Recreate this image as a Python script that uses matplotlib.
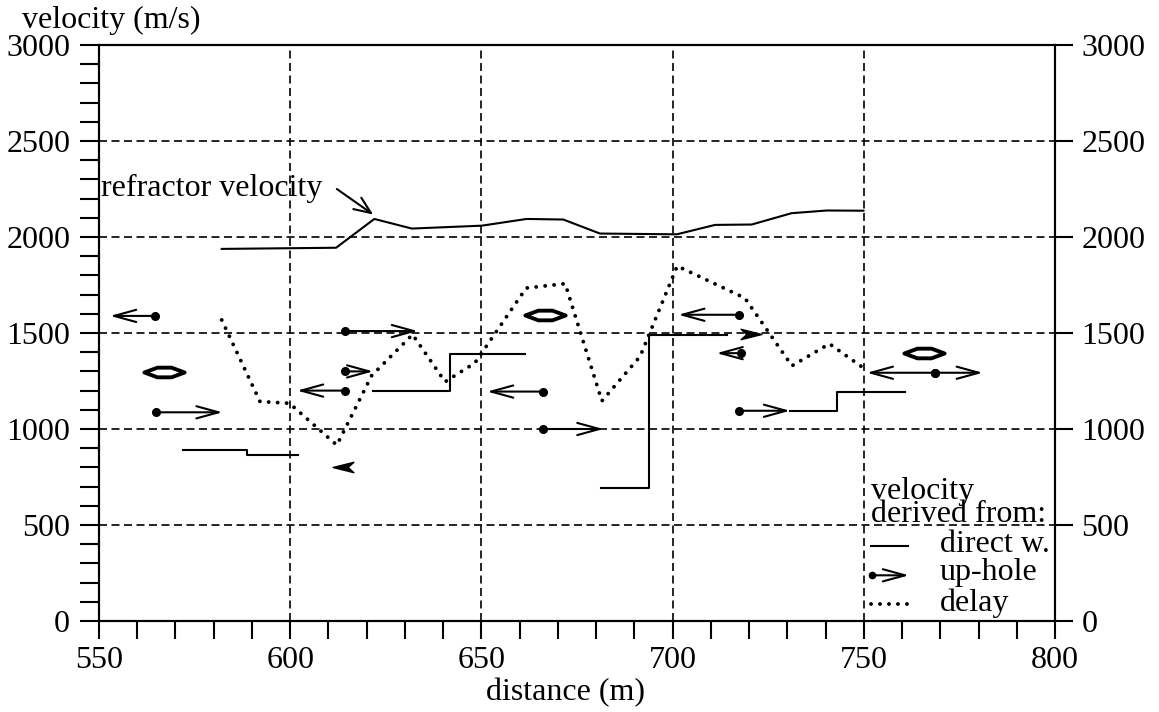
"""
Refraction seismics: refractor velocity vs distance, derived three ways.
"""

import matplotlib.pyplot as plt
from matplotlib.path import Path

plt.rcParams['font.family'] = ['Liberation Serif', 'DejaVu Serif']

# refractor velocity (solid line at the top)
refr_x = [582.1, 612.0, 622.0, 631.8, 650.1, 661.8, 671.4, 681.0, 701.1, 711.1, 720.7, 731.1, 740.3, 749.9]
refr_v = [1938, 1944, 2094, 2044, 2059, 2094, 2091, 2018, 2014, 2063, 2065, 2124, 2138, 2137]

# velocity from delay times (dotted)
delay_x = [582.1, 592.1, 599.8, 612.2, 621.3, 632.0, 640.5, 648.3, 661.7, 671.9,
           681.5, 691.5, 701.2, 718.9, 731.2, 741.0, 749.4]
delay_v = [1568, 1143, 1134, 916, 1278, 1492, 1246, 1344, 1734, 1757,
           1146, 1378, 1849, 1682, 1329, 1444, 1325]

# velocity from direct waves (step pieces)
direct_x = [[571.9, 588.6, 602.0], [621.7, 641.8, 661.4], [681.3, 693.9, 714.2], [730.7, 742.9, 760.8]]
direct_v = [[893, 865, 865], [1196, 1393, 1393], [691, 1488, 1488], [1095, 1192, 1192]]

# velocity from up-hole times: source (dot) -> arrow tip
uphole_src = [564.6, 564.8, 614.4, 614.4, 614.4, 666.2, 666.2, 717.4, 718.0, 717.4, 768.6, 768.6]
uphole_tip = [552.9, 582.3, 633.4, 621.7, 601.8, 651.5, 681.9, 701.5, 711.5, 730.7, 750.8, 781.1]
uphole_v = [1589, 1087, 1510, 1300, 1200, 1195, 1000, 1595, 1395, 1095, 1293, 1293]

# lone filled arrow heads (centre of the head)
head_x = [613.8, 720.6]
head_v = [800, 1495]
head_dir = ['left', 'right']

# hollow double-arrow symbols
sym_x = [567.1, 666.6, 765.7]
sym_v = [1295, 1596, 1398]

x_ticks = [550, 600, 650, 700, 750, 800]
v_ticks = [0, 500, 1000, 1500, 2000, 2500, 3000]

FS = 23
LW = 1.5

fig = plt.figure(figsize=(11.59, 7.12), dpi=100)
ax = fig.add_axes([0.0854, 0.1278, 0.8249, 0.809])
ax.set_xlim(550, 800)
ax.set_ylim(0, 3000)

# dashed grid, inner lines only
for gx in x_ticks[1:-1]:
    ax.axvline(gx, color='k', lw=1.2, ls=(0, (4.8, 2.7)), zorder=1)
for gv in v_ticks[1:-1]:
    ax.axhline(gv, color='k', lw=1.2, ls=(0, (4.8, 2.7)), zorder=1)

ax.plot(refr_x, refr_v, color='k', lw=LW, zorder=3)
ax.plot(delay_x, delay_v, color='k', lw=2.8, ls=(0, (0.01, 2.3)),
        dash_capstyle='round', zorder=3)
for xs, vs in zip(direct_x, direct_v):
    ax.plot(xs, vs, color='k', lw=LW, drawstyle='steps-post', zorder=3)

arrow_kw = dict(arrowstyle='->,head_length=0.8,head_width=0.22', color='k', lw=LW,
                shrinkA=0, shrinkB=0, mutation_scale=20)
for s, t, v in zip(uphole_src, uphole_tip, uphole_v):
    ax.annotate('', xy=(t, v), xytext=(s, v), arrowprops=arrow_kw, zorder=4)
ax.plot(uphole_src, uphole_v, 'o', color='k', ms=5.5, zorder=5)

head_left = Path([(-1, 0), (1, 0.5), (0.45, 0), (1, -0.5), (-1, 0)],
                 [Path.MOVETO, Path.LINETO, Path.LINETO, Path.LINETO, Path.CLOSEPOLY])
head_right = Path([(1, 0), (-1, 0.5), (-0.45, 0), (-1, -0.5), (1, 0)],
                  [Path.MOVETO, Path.LINETO, Path.LINETO, Path.LINETO, Path.CLOSEPOLY])
for hx, hv, d in zip(head_x, head_v, head_dir):
    ax.plot(hx, hv, marker=head_left if d == 'left' else head_right,
            color='k', ms=15, ls='none', zorder=5)

lens = Path([(-1, 0), (-0.35, 0.24), (0.35, 0.24), (1, 0), (0.35, -0.24), (-0.35, -0.24), (-1, 0)],
            [Path.MOVETO] + [Path.LINETO] * 5 + [Path.CLOSEPOLY])
ax.plot(sym_x, sym_v, marker=lens, ls='none', ms=29, mfc='white', mec='k', mew=2.8, zorder=5)

# refractor label
ax.text(550.5, 2212, 'refractor velocity', fontsize=FS, ha='left', va='baseline', zorder=6)
ax.annotate('', xy=(621.7, 2117), xytext=(612.2, 2250),
            arrowprops=dict(arrowstyle='->,head_length=0.6,head_width=0.25', color='k', lw=LW,
                            shrinkA=0, shrinkB=0, mutation_scale=20))

# hand-made legend (bottom right)
ax.text(752, 518, 'velocity\nderived from:', fontsize=FS, ha='left', va='baseline',
        linespacing=0.72)
ax.text(769.9, 362, 'direct w.', fontsize=FS, ha='left', va='baseline')
ax.text(769.9, 211, 'up-hole', fontsize=FS, ha='left', va='baseline')
ax.text(769.9, 54, 'delay', fontsize=FS, ha='left', va='baseline')
ax.plot([751.8, 761.6], [393, 393], color='k', lw=LW)
ax.annotate('', xy=(761.8, 238), xytext=(752.1, 238), arrowprops=arrow_kw)
ax.plot([752.1], [238], 'o', color='k', ms=4.5)
ax.plot([751.9, 762.0], [86, 86], color='k', lw=2.8, ls=(0, (0.01, 2.3)), dash_capstyle='round')

# axes, ticks
for sp in ax.spines.values():
    sp.set_linewidth(LW)
ax.set_xticks(x_ticks)
ax.set_xticks(range(550, 801, 10), minor=True)
ax.set_yticks(v_ticks)
ax.set_yticks(range(0, 3001, 100), minor=True)
ax.tick_params(axis='x', which='both', direction='out', length=13.3, width=LW,
               labelsize=FS, pad=5)
ax.tick_params(axis='y', which='both', direction='out', length=13.7, width=LW,
               labelsize=FS, pad=7)

ax2 = ax.twinx()
ax2.set_ylim(0, 3000)
ax2.set_yticks(v_ticks)
ax2.tick_params(axis='y', direction='out', length=13, width=LW, labelsize=FS, pad=6)
for sp in ax2.spines.values():
    sp.set_linewidth(LW)

fig.text(0.0187, 0.9603, 'velocity (m/s)', fontsize=FS, ha='left', va='baseline')
fig.text(0.4883, 0.0169, 'distance (m)', fontsize=FS, ha='center', va='baseline')

fig.savefig('out.png', dpi=100)
